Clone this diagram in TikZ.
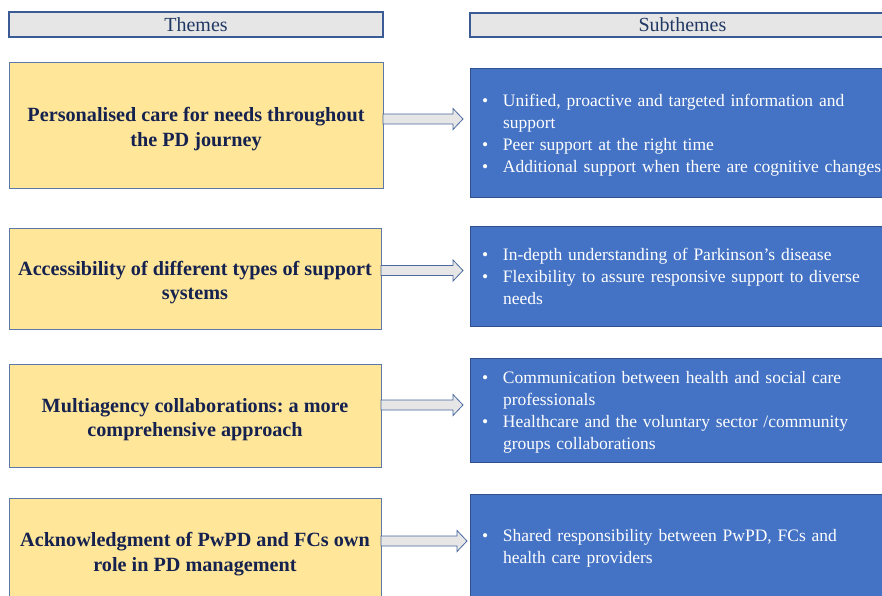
\documentclass[tikz,border=0pt]{standalone}
\usepackage{fontspec}
\setmainfont{Liberation Serif}
\frenchspacing
\usetikzlibrary{calc}
\definecolor{headfill}{HTML}{E7E6E6}
\definecolor{headline}{HTML}{3A5B95}
\definecolor{headtext}{HTML}{1F3864}
\definecolor{themefill}{HTML}{FFE699}
\definecolor{themeline}{HTML}{5B78A8}
\definecolor{navy}{HTML}{15224F}
\definecolor{subfill}{HTML}{4472C4}
\definecolor{subline}{HTML}{2F528F}
\definecolor{arrowfill}{HTML}{E7E6E6}
\definecolor{arrowline}{HTML}{4A69A0}

\begin{document}
\begin{tikzpicture}[x=1pt, y=-1pt, outer sep=0pt,
  head/.style={draw=headline, line width=1.1pt, fill=headfill, text=headtext,
    font=\fontsize{20}{24}\selectfont, inner sep=0pt, anchor=north west},
  theme/.style={draw=themeline, line width=0.8pt, fill=themefill, text=navy,
    font=\fontsize{20.2}{24.5}\selectfont\bfseries, align=center,
    minimum width=372pt, inner sep=0pt, anchor=north west},
  subtheme/.style={draw=subline, line width=0.8pt, fill=subfill, text=white,
    font=\fontsize{17.5}{22}\selectfont, align=left,
    text width=410pt, inner xsep=12pt, anchor=north west},
  flow/.style={draw=arrowline, line width=0.8pt, fill=arrowfill}]

\useasboundingbox (0,0) rectangle (882,595);
\clip (0,0) rectangle (882,595);

% headers
\node[head, minimum width=374pt, minimum height=25pt] at (9, 12) (THEMES_HEAD) {Themes};
\node[head, minimum width=425pt, minimum height=24pt] at (470, 13) (SUB_HEAD) {Subthemes};

% themes
\node[theme, minimum width=374pt, minimum height=126pt] at (9, 62) (CARE)
  {\begin{tabular}{@{}c@{}}Personalised care for needs throughout\\
   the PD journey\\[-8pt]\end{tabular}};
\node[theme, minimum height=101pt] at (9, 228) (ACCESS)
  {\begin{tabular}{@{}c@{}}Accessibility of different types of support\\
   systems\\[-8pt]\end{tabular}};
\node[theme, minimum height=103pt] at (9, 364) (MULTI)
  {\begin{tabular}{@{}c@{}}Multiagency collaborations: a more\\
   comprehensive approach\\[-8pt]\end{tabular}};
\node[theme, minimum height=104pt] at (9, 498) (ACK)
  {\begin{tabular}{@{}c@{}}Acknowledgment of PwPD and FCs own\\
   role in PD management\\[-8pt]\end{tabular}};

% subthemes
\node[subtheme, minimum height=129pt] at (470, 68) (CARE_SUB)
  {\begin{tabular}{@{}p{21pt}@{}l@{}}
   \textbullet & Unified, proactive and targeted information and\\
               & support\\
   \textbullet & Peer support at the right time\\
   \textbullet & Additional support when there are cognitive changes\\[-5pt]
   \end{tabular}};
\node[subtheme, minimum height=100pt] at (470, 226) (ACCESS_SUB)
  {\begin{tabular}{@{}p{21pt}@{}l@{}}
   \textbullet & In-depth understanding of Parkinson’s disease\\
   \textbullet & Flexibility to assure responsive support to diverse\\
               & needs\\[-5pt]
   \end{tabular}};
\node[subtheme, minimum height=104pt] at (470, 358) (MULTI_SUB)
  {\begin{tabular}{@{}p{21pt}@{}l@{}}
   \textbullet & Communication between health and social care\\
               & professionals\\
   \textbullet & Healthcare and the voluntary sector /community\\
               & groups collaborations\\[-5pt]
   \end{tabular}};
\node[subtheme, minimum height=108pt] at (470, 494) (ACK_SUB)
  {\begin{tabular}{@{}p{21pt}@{}l@{}}
   \textbullet & Shared responsibility between PwPD, FCs and\\
               & health care providers
   \end{tabular}};

% block arrows theme -> subtheme
\foreach \from/\to/\dy/\gap in {CARE/CARE_SUB/6/7, ACCESS/ACCESS_SUB/8/7,
    MULTI/MULTI_SUB/10.5/7, ACK/ACK_SUB/9/3}
  \draw[flow] let \p1=($(\from.east)+(0,-\dy)$), \p2=($(\to.west)+(-\gap,0)$) in
    (\x1,{\y1+5pt}) -- ({\x2-10pt},{\y1+5pt}) -- ({\x2-10pt},{\y1+10.5pt})
    -- (\x2,\y1) -- ({\x2-10pt},{\y1-10.5pt}) -- ({\x2-10pt},{\y1-5pt})
    -- (\x1,{\y1-5pt}) -- cycle;
\end{tikzpicture}
\end{document}
